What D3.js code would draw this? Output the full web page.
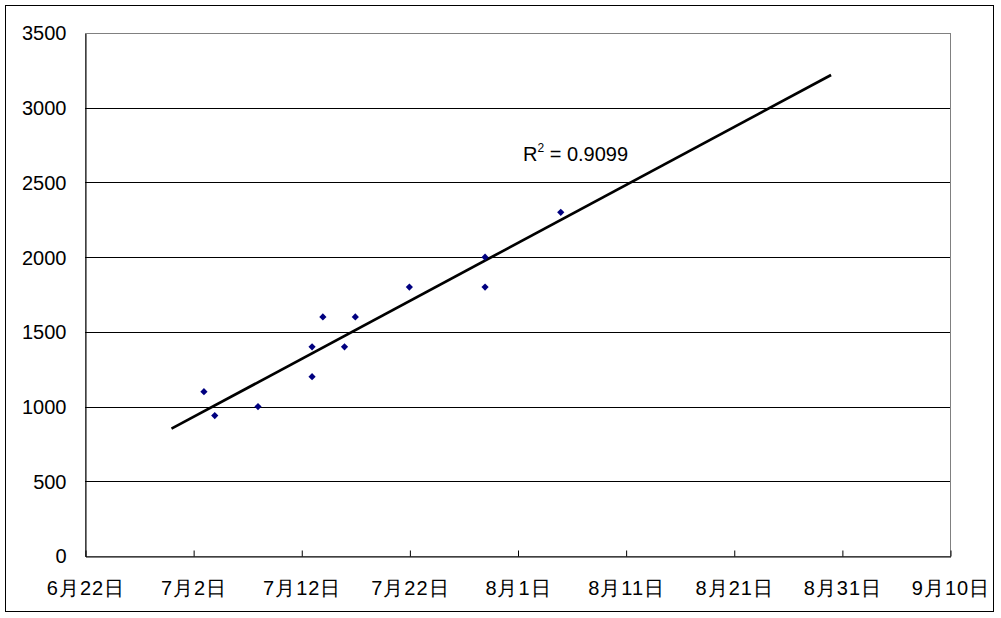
<!DOCTYPE html>
<html><head><meta charset="utf-8">
<script src="https://cdn.jsdelivr.net/npm/d3@7"></script>
<style>
html,body{margin:0;padding:0;background:#fff;}
svg text{font-family:"Liberation Sans",Arial,sans-serif;}
</style></head><body>
<svg id="c" width="1001" height="618"></svg>
<script>
// data
const pointDates = ["2000-07-03","2000-07-04","2000-07-08","2000-07-13","2000-07-13","2000-07-14","2000-07-16","2000-07-17","2000-07-22","2000-07-29","2000-07-29","2000-08-05"];
const pointValues = [1100, 940, 1000, 1400, 1200, 1600, 1400, 1600, 1800, 2000, 1800, 2300];
const xTickDates = ["2000-06-22","2000-07-02","2000-07-12","2000-07-22","2000-08-01","2000-08-11","2000-08-21","2000-08-31","2000-09-10"];
const xTickLabels = ["6月22日","7月2日","7月12日","7月22日","8月1日","8月11日","8月21日","8月31日","9月10日"];
const yTicks = [0,500,1000,1500,2000,2500,3000,3500];
const trendExtent = ["2000-06-30","2000-08-30"];

const svg = d3.select("#c");
const m={left:85,right:950,top:33,bottom:556};
const parse = d3.utcParse("%Y-%m-%d");

// outer border
svg.append("rect").attr("x",5.5).attr("y",5.5).attr("width",988).attr("height",606)
  .attr("fill","#fff").attr("stroke","#000").attr("stroke-width",1);

const x = d3.scaleUtc().domain([parse(xTickDates[0]), parse(xTickDates[xTickDates.length-1])]).range([m.left,m.right]);
const y = d3.scaleLinear().domain([0,3500]).range([m.bottom,m.top]);

// plot border (gray top/right)
svg.append("rect").attr("x",m.left+0.5).attr("y",m.top+0.5).attr("width",m.right-m.left).attr("height",m.bottom-m.top)
  .attr("fill","none").attr("stroke","#808080").attr("stroke-width",1);

// gridlines
svg.append("g").selectAll("line").data(yTicks.filter(d=>d>0 && d<3500)).join("line")
  .attr("x1",m.left).attr("x2",m.right)
  .attr("y1",d=>Math.round(y(d))+0.5).attr("y2",d=>Math.round(y(d))+0.5)
  .attr("stroke","#000").attr("stroke-width",1);

// y axis
const yAxis = d3.axisLeft(y).tickValues(yTicks).tickSize(0).tickPadding(19).tickFormat(d3.format("d"));
const gy = svg.append("g").attr("transform",`translate(${m.left+0.5},0.5)`).call(yAxis);
gy.select(".domain").attr("stroke","#000");
gy.selectAll("text").attr("font-size","20px").attr("fill","#000").attr("font-family","Liberation Sans, Arial, sans-serif");

// x axis
const xAxis = d3.axisBottom(x).tickValues(xTickDates.map(parse)).tickSizeInner(-6).tickSizeOuter(0)
  .tickPadding(24).tickFormat((d,i)=>xTickLabels[i]);
const gx = svg.append("g").attr("transform",`translate(0.5,${m.bottom+0.5})`).call(xAxis);
gx.select(".domain").attr("stroke","#000");
gx.selectAll("line").attr("stroke","#000");
gx.selectAll("text").attr("font-size","20px").attr("fill","#000")
  .attr("font-family","Noto Sans CJK JP, sans-serif").attr("letter-spacing","1px");

// regression
const xs = pointDates.map(d=>(parse(d)-parse(xTickDates[0]))/864e5);
const mx = d3.mean(xs), my = d3.mean(pointValues);
let sxx=0,sxy=0,syy=0;
xs.forEach((xv,i)=>{sxx+=(xv-mx)**2; sxy+=(xv-mx)*(pointValues[i]-my); syy+=(pointValues[i]-my)**2;});
const slope = sxy/sxx, intercept = my - slope*mx;
const r2 = sxy*sxy/(sxx*syy);
const tl = trendExtent.map(d=>{const t=(parse(d)-parse(xTickDates[0]))/864e5; return [x(parse(d)), y(intercept+slope*t)];});
svg.append("line").attr("x1",tl[0][0]).attr("y1",tl[0][1]).attr("x2",tl[1][0]).attr("y2",tl[1][1])
  .attr("stroke","#000").attr("stroke-width",2.7);

// points
svg.append("g").selectAll("path").data(pointDates.map((d,i)=>[parse(d),pointValues[i]])).join("path")
  .attr("d",d3.symbol(d3.symbolSquare, 26))
  .attr("transform",d=>`translate(${x(d[0])},${y(d[1])}) rotate(45)`)
  .attr("fill","#000080");

// R2 label
const lab = svg.append("text").attr("x",523).attr("y",161).attr("font-size","20px").attr("fill","#000");
lab.append("tspan").text("R");
lab.append("tspan").attr("dy",-9).attr("font-size","12px").text("2");
lab.append("tspan").attr("dy",9).text(" = " + r2.toFixed(4));
</script>
</body></html>
